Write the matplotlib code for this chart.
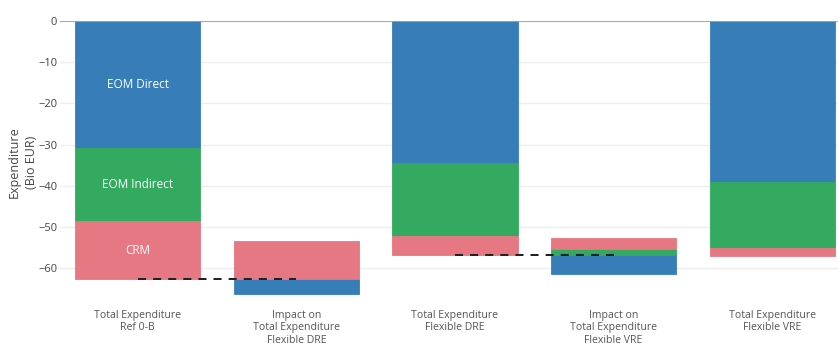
import matplotlib
matplotlib.use('Agg')
import matplotlib.pyplot as plt
import numpy as np

# ── data (Bio EUR) ────────────────────────────────────────────────────────────
categories = [
    'Total Expenditure\nRef 0-B',
    'Impact on\nTotal Expenditure\nFlexible DRE',
    'Total Expenditure\nFlexible DRE',
    'Impact on\nTotal Expenditure\nFlexible VRE',
    'Total Expenditure\nFlexible VRE',
]
series_names = ['EOM Direct', 'EOM Indirect', 'CRM']
eom_direct = [-30.9, -3.6, -34.4, -4.6, -39.0]
eom_indirect = [-17.6, 0.0, -17.7, 1.4, -16.0]
crm = [-14.1, 9.2, -4.7, 2.7, -2.1]
# impact bars start from the previous total
bases = [0.0, -62.6, 0.0, -56.8, 0.0]
yticks = [0, -10, -20, -30, -40, -50, -60]

colors = ['#377eb8', '#33aa5f', '#e57883']

plt.rcParams['font.family'] = ['Open Sans', 'DejaVu Sans']

fig = plt.figure(figsize=(8.38, 3.47), dpi=100)
ax = fig.add_axes([60 / 838, 1 - 303.4 / 347, 778 / 838, (303.4 - 21) / 347])

x = np.arange(len(categories))
width = 0.79
series = [eom_direct, eom_indirect, crm]

# relative stacking: positives go up from base, negatives go down
pos = np.array(bases, dtype=float)
neg = np.array(bases, dtype=float)
segments = []
for vals, col, name in zip(series, colors, series_names):
    vals = np.array(vals)
    bottom = np.where(vals >= 0, pos, neg)
    ax.bar(x, vals, width=width, bottom=bottom, color=col,
           edgecolor=col, linewidth=0.6, zorder=2)
    segments.append(bottom + vals / 2)
    pos = np.where(vals >= 0, pos + vals, pos)
    neg = np.where(vals < 0, neg + vals, neg)

# segment labels on the first bar only
for name, mids in zip(series_names, segments):
    ax.text(x[0], mids[0], name, ha='center', va='center',
            color='white', fontsize=8.5, zorder=4)

# dashed connectors between a total and the following impact bar
totals = [sum(v) for v in zip(eom_direct, eom_indirect, crm)]
for i in (0, 2):
    ax.plot([x[i], x[i + 1]], [totals[i], totals[i]],
            color='#222222', linewidth=1.45, linestyle=(0, (4, 3.5)), zorder=5)

ax.set_xlim(-0.49, 4.415)
ax.set_ylim(-68.5, 0)
ax.set_yticks(yticks)
ax.set_yticklabels([f'\u2212{abs(t)}' if t < 0 else str(t) for t in yticks])
ax.set_xticks(x)
ax.set_xticklabels(categories, fontsize=7.6, color='#555555', linespacing=1.22)
ax.tick_params(axis='y', length=0, pad=2, labelsize=8, labelcolor='#444444')
ax.tick_params(axis='x', length=0, pad=4.5)

ax.grid(axis='y', color='#eeeeee', linewidth=1, zorder=0)
ax.axhline(0, color='#a0a0a0', linewidth=1.3, zorder=3)
for s in ax.spines.values():
    s.set_visible(False)

ax.set_ylabel('Expenditure\n(Bio EUR)', fontsize=9, color='#444444',
              linespacing=1.45, labelpad=0)

fig.savefig('out.png', dpi=100)
